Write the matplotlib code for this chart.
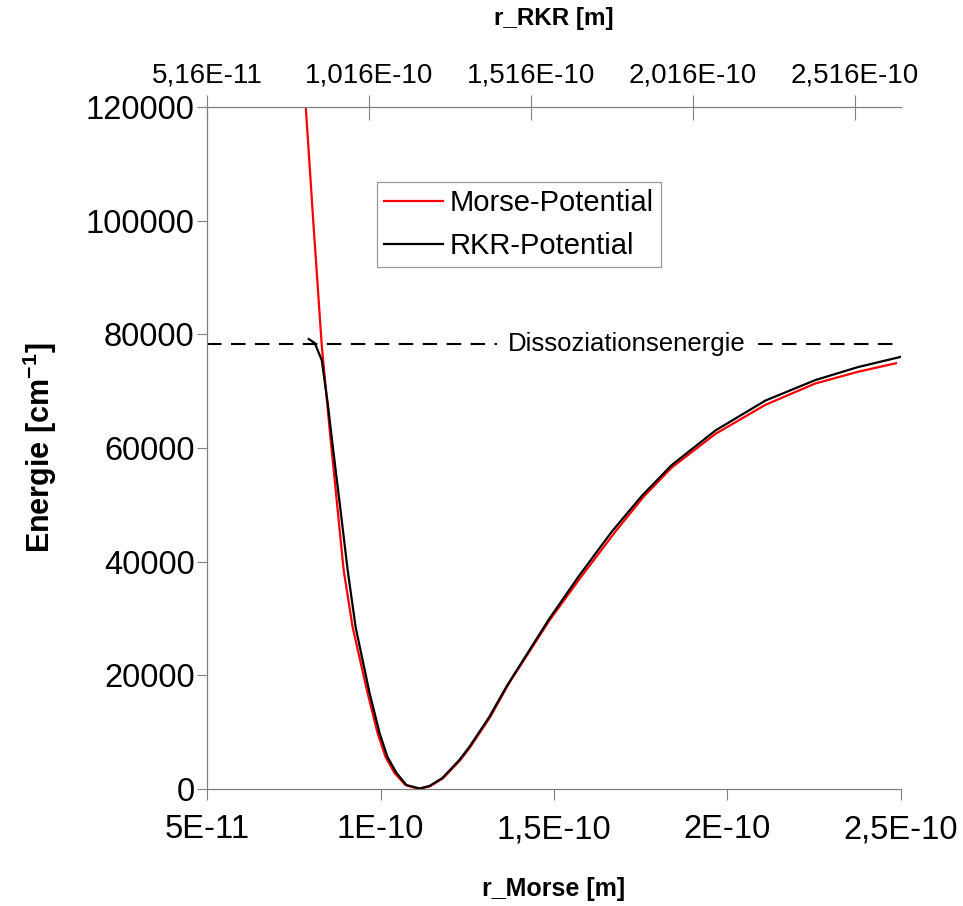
import matplotlib
matplotlib.use('Agg')
import matplotlib.pyplot as plt
from matplotlib.lines import Line2D

plt.rcParams['font.family'] = ['Liberation Sans', 'DejaVu Sans']
plt.rcParams['mathtext.fontset'] = 'custom'
plt.rcParams['mathtext.rm'] = 'Liberation Sans'
plt.rcParams['mathtext.bf'] = 'Liberation Sans:bold'

# Morse potential, r in m (bottom axis), energy in cm^-1
r_morse = [0.7845e-10, 0.8065e-10, 0.8305e-10, 0.8535e-10, 0.8937e-10, 0.9195e-10,
           0.9627e-10, 0.9914e-10, 1.0144e-10, 1.0402e-10, 1.0718e-10, 1.1121e-10,
           1.1437e-10, 1.1810e-10, 1.2299e-10, 1.2586e-10, 1.3161e-10, 1.3707e-10,
           1.4856e-10, 1.5776e-10, 1.6782e-10, 1.7586e-10, 1.8391e-10, 1.9655e-10,
           2.1092e-10, 2.2529e-10, 2.3765e-10, 2.4857e-10]
e_morse = [120000, 99590, 78120, 63170, 38530, 28500,
           16890, 9850, 5630, 2820, 700, 0,
           530, 1940, 5100, 7390, 12670, 18650,
           29560, 37300, 45400, 51450, 56550, 62500,
           67600, 71350, 73420, 74920]

# RKR potential, r in m (top axis)
r_rkr = [0.8299e-10, 0.8484e-10, 0.8700e-10, 0.8884e-10, 0.9038e-10, 0.9254e-10,
         0.9500e-10, 0.9746e-10, 1.0177e-10, 1.0485e-10, 1.0731e-10, 1.1008e-10,
         1.1316e-10, 1.1716e-10, 1.2024e-10, 1.2424e-10, 1.2947e-10, 1.3255e-10,
         1.3870e-10, 1.4394e-10, 1.5717e-10, 1.6641e-10, 1.7656e-10, 1.8580e-10,
         1.9503e-10, 2.0857e-10, 2.2396e-10, 2.3935e-10, 2.5259e-10, 2.6551e-10]
e_rkr = [79180, 78470, 75480, 67920, 60400, 50320,
         38530, 28500, 16890, 9850, 5630, 2820,
         700, 100, 530, 1940, 5100, 7390,
         12670, 17950, 29900, 37500, 45300, 51580,
         57000, 63100, 68350, 71950, 74250, 76010]

dissociation_energy = 78300

x_ticks = [0.5e-10, 1.0e-10, 1.5e-10, 2.0e-10, 2.5e-10]
x_ticklabels = ['5E-11', '1E-10', '1,5E-10', '2E-10', '2,5E-10']
x_top_ticks = [0.516e-10, 1.016e-10, 1.516e-10, 2.016e-10, 2.516e-10]
x_top_ticklabels = ['5,16E-11', '1,016E-10', '1,516E-10', '2,016E-10', '2,516E-10']
y_ticks = [0, 20000, 40000, 60000, 80000, 100000, 120000]

gray = '#808080'

fig = plt.figure(figsize=(9.63, 9.06), dpi=100)
ax = fig.add_axes([0.215, 0.1291, 0.7206, 0.7528])
ax2 = ax.twiny()

# curves
ax.plot(r_morse, e_morse, color='#ff0000', lw=1.6, zorder=3)
ax2.plot(r_rkr, e_rkr, color='black', lw=1.6, zorder=4)

# dissociation energy
ax.axhline(dissociation_energy, color='black', lw=1.5, dashes=(7, 4.5), zorder=2)
ax.text(1.71e-10, dissociation_energy, 'Dissoziationsenergie', fontsize=18.5,
        ha='center', va='center', zorder=5,
        bbox=dict(facecolor='white', edgecolor='none', pad=8))

# axis limits and ticks
ax.set_xlim(0.5e-10, 2.5e-10)
ax.set_ylim(0, 120000)
ax2.set_xlim(0.516e-10, 2.658e-10)

ax.set_xticks(x_ticks)
ax.set_xticklabels(x_ticklabels)
ax.set_yticks(y_ticks)
ax.set_yticklabels([str(v) for v in y_ticks])
ax2.set_xticks(x_top_ticks)
ax2.set_xticklabels(x_top_ticklabels)

ax.tick_params(axis='x', direction='out', length=8, width=0.8, color=gray,
               labelsize=23.5, pad=10)
ax.tick_params(axis='y', direction='out', length=7, width=0.8, color=gray,
               labelsize=23.5, pad=2)
ax2.tick_params(axis='x', direction='inout', length=18, width=0.8, color=gray,
                labelsize=20, pad=4)

for a in [ax, ax2]:
    for s in a.spines.values():
        s.set_color(gray)
        s.set_linewidth(0.9)
ax.spines['right'].set_visible(False)
ax.spines['top'].set_visible(False)
ax2.spines['right'].set_visible(False)
ax2.spines['left'].set_visible(False)
ax2.spines['bottom'].set_visible(False)

ax.set_xlabel('r_Morse [m]', fontsize=18, fontweight='bold', labelpad=23)
ax2.set_xlabel('r_RKR [m]', fontsize=17.5, fontweight='bold', labelpad=27)
ax.set_ylabel(r'Energie [cm$^{\mathbf{-1}}$]', fontsize=22, fontweight='bold', labelpad=19)

# legend
handles = [Line2D([0], [0], color='#ff0000', lw=1.6, label='Morse-Potential'),
           Line2D([0], [0], color='black', lw=1.6, label='RKR-Potential')]
leg = ax2.legend(handles=handles, loc='upper left', bbox_to_anchor=(0.245, 0.89),
                 borderaxespad=0, fontsize=21, frameon=True, fancybox=False,
                 handlelength=2.0, handletextpad=0.25, labelspacing=0.5,
                 borderpad=0.25)
leg.get_frame().set_edgecolor(gray)
leg.get_frame().set_linewidth(0.9)

fig.savefig('out.png', dpi=100)
